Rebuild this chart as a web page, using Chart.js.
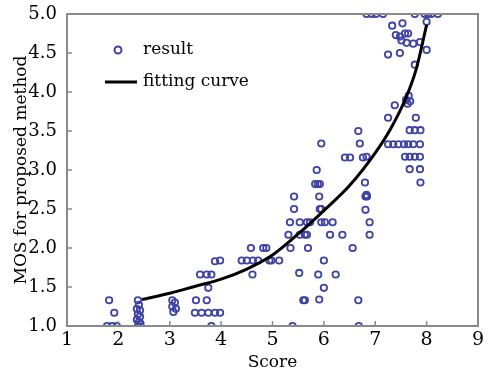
<!DOCTYPE html>
<html>
<head>
<meta charset="utf-8">
<script src="https://cdn.jsdelivr.net/npm/chart.js@4"></script>
<style>
  html, body { margin: 0; padding: 0; background: #fff; }
  #wrap { width: 499px; height: 375px; }
</style>
</head>
<body>
<div id="wrap"><canvas id="mosChart" width="499" height="375"></canvas></div>
<script>
// scatter: score vs MOS
var resultX = [
    1.82, 1.92, 1.78, 1.88, 1.97,
    2.38, 2.40, 2.36, 2.42, 2.38, 2.42, 2.36, 2.40, 2.43, 2.38,
    3.05, 3.10, 3.05, 3.12, 3.07,
    3.51, 3.72, 3.49, 3.62, 3.75, 3.88, 3.98, 3.59, 3.72, 3.81, 3.75, 3.88, 3.81,
    3.98, 4.40, 4.50, 4.62, 4.72, 4.94, 4.98, 5.13, 4.58, 4.82, 4.88, 4.61,
    5.39, 5.35, 5.52, 5.60, 5.63, 5.31, 5.53, 5.63, 5.67, 5.34, 5.53, 5.67, 5.73,
    5.42, 5.42, 5.69, 5.91, 5.92, 5.95, 5.83, 5.88, 5.92, 5.95, 6.02, 6.17,
    6.12, 6.36, 6.00, 5.89, 6.23, 6.00, 5.91, 6.56, 6.67, 6.68,
    6.80, 6.81, 6.84, 6.81, 6.89, 6.89,
    6.67, 5.95, 6.70, 6.41, 6.51, 6.76, 5.86, 6.83, 6.83,
    6.83, 6.93, 7.01, 7.15, 7.77, 7.96, 8.03, 8.09, 8.22,
    8.00, 7.33, 7.53, 7.40, 7.48, 7.58, 7.64, 7.51, 7.61, 7.74, 7.87, 8.00,
    7.25, 7.48, 7.77,
    7.60, 7.65, 7.68, 7.63, 7.38, 7.25, 7.79, 7.67, 7.77, 7.88,
    7.25, 7.35, 7.45, 7.56, 7.64, 7.74, 7.87,
    7.58, 7.67, 7.77, 7.87, 7.67, 7.87, 7.88
];
var resultY = [
    1.33, 1.17, 1.00, 1.00, 1.00,
    1.33, 1.27, 1.22, 1.20, 1.15, 1.12, 1.08, 1.05, 1.03, 1.00,
    1.33, 1.30, 1.25, 1.22, 1.18,
    1.33, 1.33, 1.17, 1.17, 1.17, 1.17, 1.17, 1.66, 1.66, 1.66, 1.49, 1.83, 1.00,
    1.84, 1.84, 1.84, 1.84, 1.84, 1.84, 1.84, 1.84, 2.00, 2.00, 2.00, 1.66,
    1.00, 2.00, 1.68, 1.33, 1.33, 2.17, 2.17, 2.17, 2.17, 2.33, 2.33, 2.33, 2.33,
    2.50, 2.66, 2.00, 2.66, 2.50, 2.50, 2.82, 2.82, 2.82, 2.33, 2.33, 2.33,
    2.17, 2.17, 1.84, 1.66, 1.66, 1.49, 1.34, 2.00, 1.33, 1.00,
    2.84, 2.66, 2.66, 2.49, 2.33, 2.17,
    3.50, 3.34, 3.34, 3.16, 3.16, 3.16, 3.00, 3.17, 2.68,
    5.00, 5.00, 5.00, 5.00, 5.00, 5.00, 5.00, 5.00, 5.00,
    4.90, 4.85, 4.88, 4.73, 4.71, 4.75, 4.75, 4.66, 4.63, 4.62, 4.64, 4.54,
    4.48, 4.50, 4.35,
    3.90, 3.95, 3.88, 3.85, 3.83, 3.67, 3.67, 3.51, 3.51, 3.51,
    3.33, 3.33, 3.33, 3.33, 3.33, 3.33, 3.33,
    3.17, 3.17, 3.17, 3.17, 3.01, 3.01, 2.84
];

// fitting curve, sampled from the drawn line
var curveX = [2.46, 3.0, 3.5, 4.0, 4.5, 5.0, 5.5, 6.0, 6.5, 7.0, 7.3, 7.6, 7.8, 8.0];
var curveY = [1.34, 1.42, 1.51, 1.60, 1.73, 1.91, 2.18, 2.48, 2.80, 3.22, 3.53, 3.93, 4.30, 4.86];

var xTicks = [1, 2, 3, 4, 5, 6, 7, 8, 9];
var yTicks = [1.0, 1.5, 2.0, 2.5, 3.0, 3.5, 4.0, 4.5, 5.0];

var serif = "'DejaVu Serif', serif";
var dotColor = 'rgb(62, 66, 165)';
var frameColor = '#8a8a8a';

var resultPts = resultX.map(function (x, i) { return { x: x, y: resultY[i] }; });
var curvePts = curveX.map(function (x, i) { return { x: x, y: curveY[i] }; });

// frame, inside tick marks and the in-plot legend
var decorPlugin = {
    id: 'decor',
    beforeDraw: function (chart) {
        var ctx = chart.ctx;
        ctx.save();
        ctx.fillStyle = '#fff';
        ctx.fillRect(0, 0, chart.width, chart.height);
        ctx.restore();
    },
    afterDraw: function (chart) {
        var ctx = chart.ctx, a = chart.chartArea;
        var xs = chart.scales.x, ys = chart.scales.y;
        ctx.save();
        ctx.strokeStyle = frameColor;
        ctx.lineWidth = 2;
        ctx.strokeRect(a.left, a.top, a.right - a.left, a.bottom - a.top);
        ctx.lineWidth = 1.5;
        ctx.beginPath();
        xTicks.forEach(function (t) {
            var px = xs.getPixelForValue(t);
            ctx.moveTo(px, a.bottom); ctx.lineTo(px, a.bottom - 5);
        });
        yTicks.forEach(function (t) {
            var py = ys.getPixelForValue(t);
            ctx.moveTo(a.left, py); ctx.lineTo(a.left + 5, py);
        });
        ctx.stroke();

        // legend
        var ds = chart.data.datasets;
        var lx = a.left + 51, ly1 = a.top + 36, ly2 = a.top + 68;
        ctx.strokeStyle = dotColor;
        ctx.lineWidth = 2;
        ctx.beginPath();
        ctx.arc(lx, ly1, 3.5, 0, Math.PI * 2);
        ctx.stroke();
        ctx.strokeStyle = '#000';
        ctx.lineWidth = 3;
        ctx.beginPath();
        ctx.moveTo(lx - 13, ly2); ctx.lineTo(lx + 19, ly2);
        ctx.stroke();
        ctx.fillStyle = '#000';
        ctx.font = '17px ' + serif;
        ctx.textBaseline = 'middle';
        ctx.fillText(ds[0].label, lx + 25, ly1);
        ctx.fillText(ds[1].label, lx + 25, ly2);
        ctx.restore();
    }
};

new Chart(document.getElementById('mosChart'), {
    type: 'scatter',
    data: {
        datasets: [{
            label: 'result',
            data: resultPts,
            pointStyle: 'circle',
            pointRadius: 3.2,
            pointBorderWidth: 1.8,
            borderColor: dotColor,
            backgroundColor: 'rgba(0,0,0,0)',
            order: 2
        },
        {
            label: 'fitting curve',
            type: 'line',
            data: curvePts,
            borderColor: '#000',
            borderWidth: 3,
            pointRadius: 0,
            fill: false,
            cubicInterpolationMode: 'monotone',
            order: 1
        }]
    },
    options: {
        responsive: false,
        animation: false,
        layout: {
            autoPadding: false,
            padding: { top: 14, right: 21, left: 0, bottom: 0 }
        },
        plugins: {
            legend: { display: false },
            tooltip: { enabled: false }
        },
        scales: {
            x: {
                type: 'linear',
                min: 1,
                max: 9,
                afterFit: function (s) {
                    s.height = 49;
                    s.paddingLeft = 0; s.paddingRight = 0;
                },
                afterBuildTicks: function (s) { s.ticks = xTicks.map(function (v) { return { value: v }; }); },
                ticks: { color: '#000', font: { family: serif, size: 19 }, padding: 3, maxRotation: 0 },
                grid: { display: false, drawTicks: false },
                border: { display: false },
                title: { display: true, text: 'Score', color: '#000', font: { family: serif, size: 17 }, padding: { top: 0, bottom: 2 } }
            },
            y: {
                type: 'linear',
                min: 1,
                max: 5,
                afterFit: function (s) {
                    s.width = 67;
                    s.paddingTop = 0; s.paddingBottom = 0;
                },
                afterBuildTicks: function (s) { s.ticks = yTicks.map(function (v) { return { value: v }; }); },
                ticks: {
                    color: '#000', font: { family: serif, size: 18 }, padding: 10,
                    callback: function (v) { return Number(v).toFixed(1); }
                },
                grid: { display: false, drawTicks: false },
                border: { display: false },
                title: { display: true, text: 'MOS for proposed method', color: '#000', font: { family: serif, size: 17 }, padding: { top: 11, bottom: 0 } }
            }
        }
    },
    plugins: [decorPlugin]
});
</script>
</body>
</html>
